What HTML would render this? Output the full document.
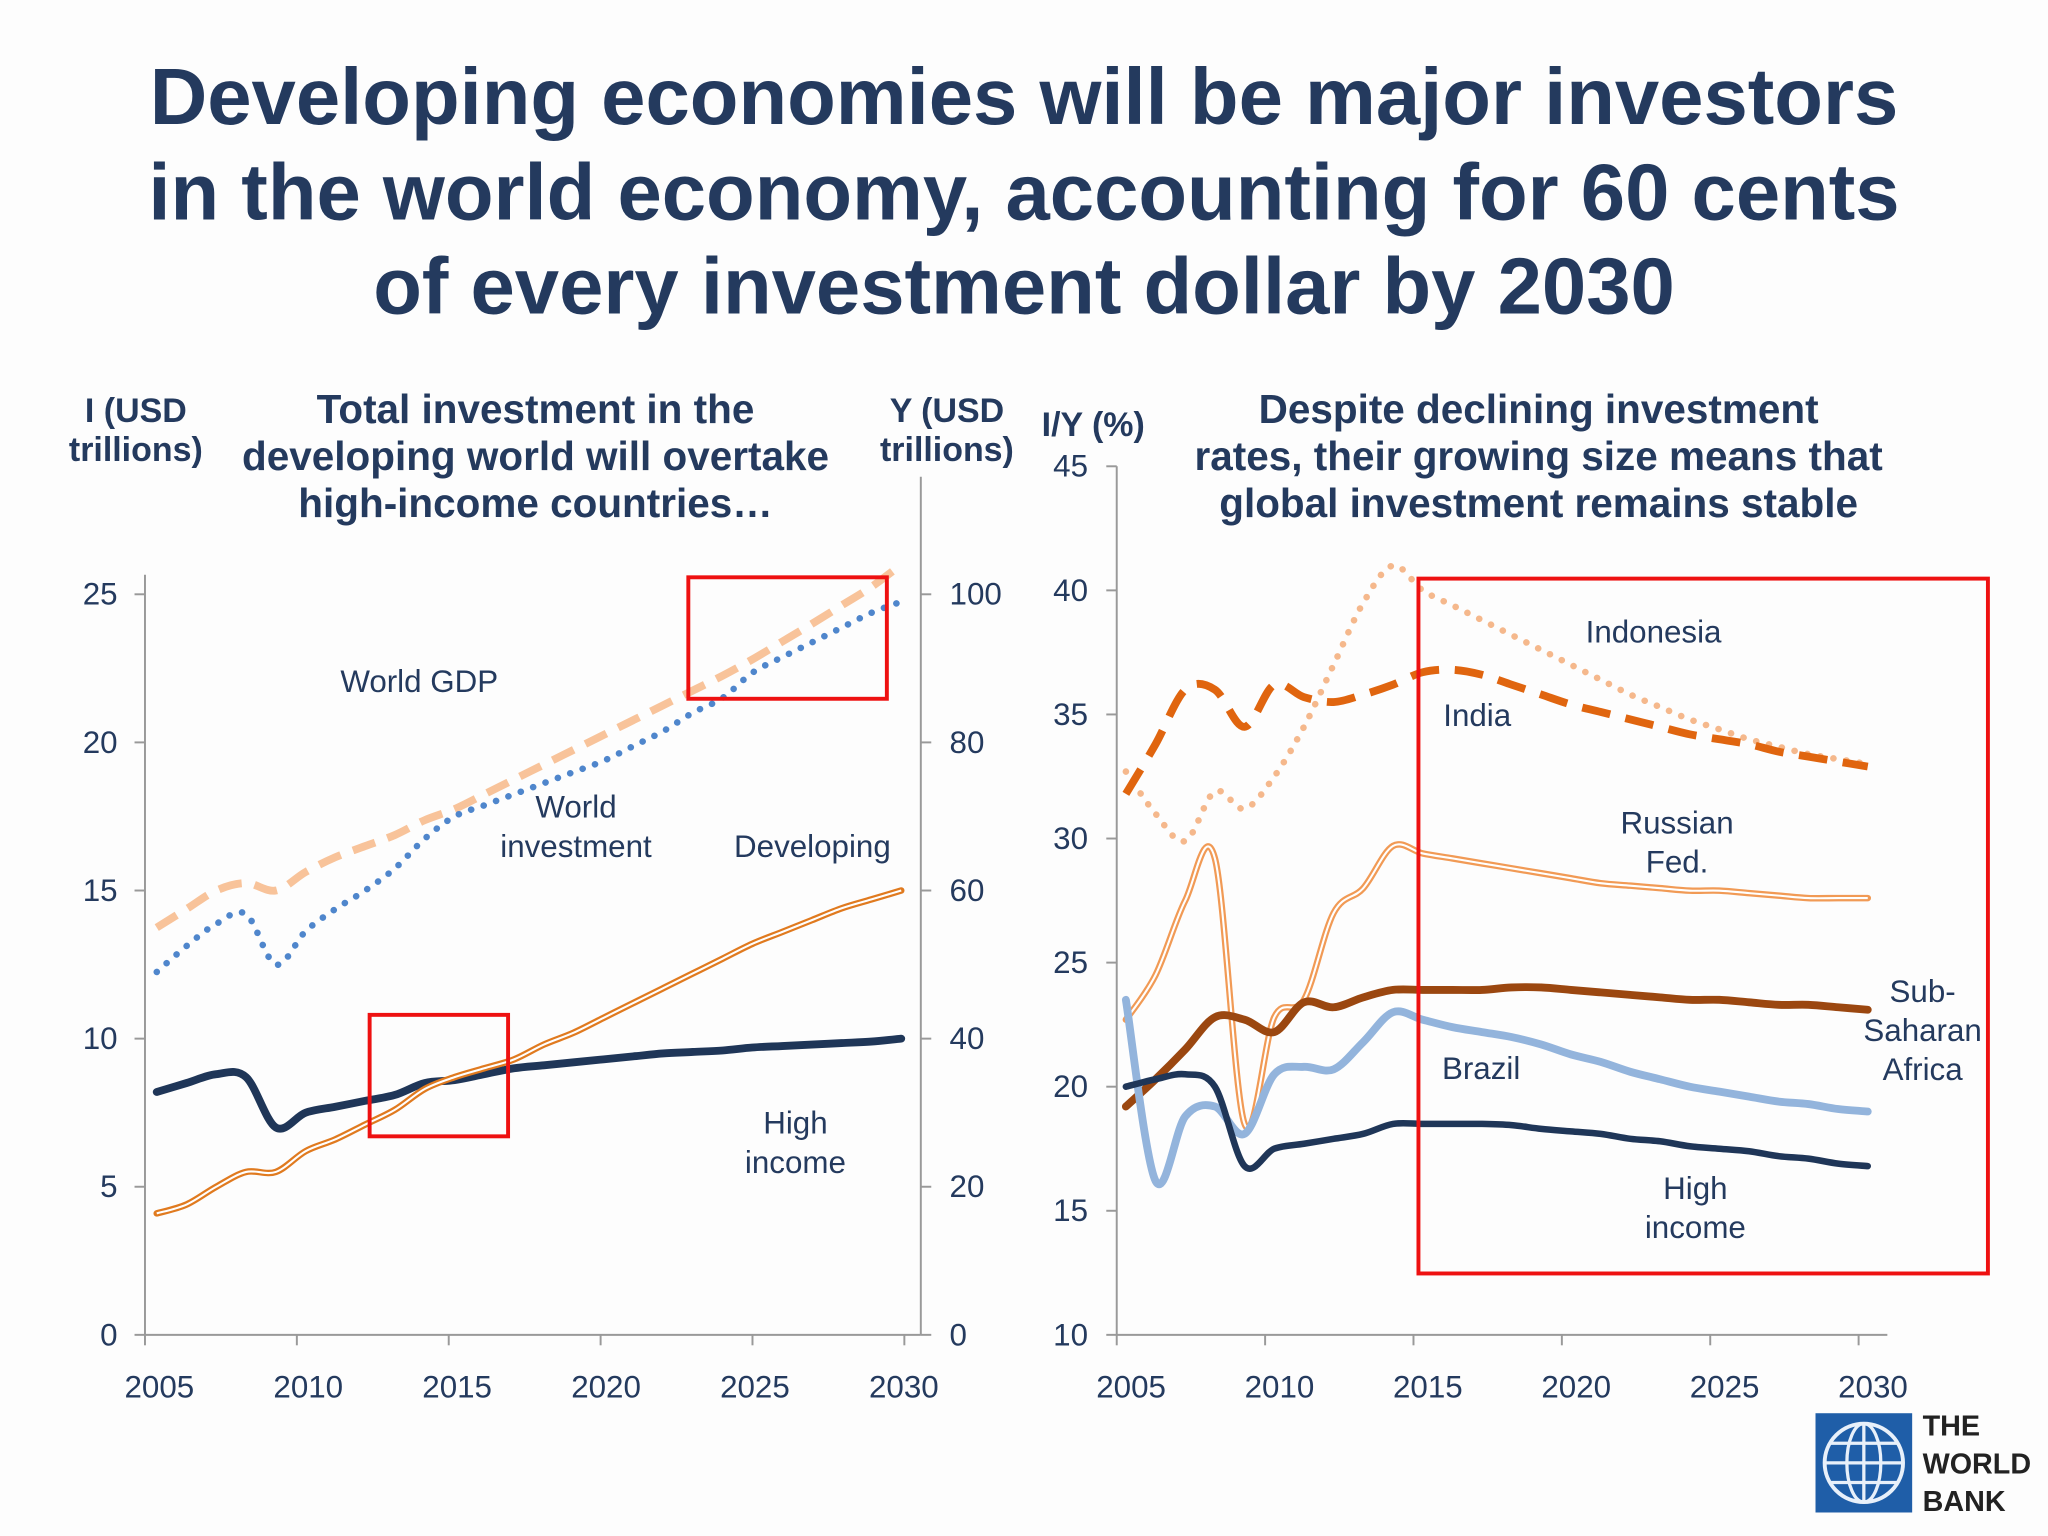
<!DOCTYPE html>
<html><head><meta charset="utf-8"><style>
html,body{margin:0;padding:0;background:#fff;}
svg{display:block;font-family:"Liberation Sans",Arial,sans-serif;}
</style></head><body>
<svg id="chart" width="2048" height="1536" viewBox="0 0 1568 1176">
<rect width="1568" height="1176" fill="#fdfdfd"/>
<g fill="#243a5e" font-weight="bold" font-size="61" text-anchor="middle">
<text x="784" y="95">Developing economies will be major investors</text>
<text x="784" y="168">in the world economy, accounting for 60 cents</text>
<text x="784" y="240">of every investment dollar by 2030</text>
</g>
<g fill="#243a5e" font-weight="bold" font-size="31" text-anchor="middle">
<text x="410" y="324">Total investment in the</text>
<text x="410" y="360">developing world will overtake</text>
<text x="410" y="396">high-income countries…</text>
</g>
<g fill="#243a5e" font-weight="bold" font-size="26" text-anchor="middle">
<text x="104" y="323">I (USD</text><text x="104" y="353">trillions)</text></g>
<g fill="#243a5e" font-weight="bold" font-size="26" text-anchor="middle">
<text x="725" y="323">Y (USD</text><text x="725" y="353">trillions)</text></g>
<g fill="#243a5e" font-weight="bold" font-size="31" text-anchor="middle">
<text x="1178" y="324">Despite declining investment</text>
<text x="1178" y="360">rates, their growing size means that</text>
<text x="1178" y="396">global investment remains stable</text>
</g>
<text x="837" y="334" fill="#243a5e" font-weight="bold" font-size="26" text-anchor="middle">I/Y (%)</text>
<g id="axes"></g>
<g id="series"></g>
<g fill="#243a5e" font-size="24" text-anchor="middle">
<text x="321" y="530">World GDP</text>
<text x="441" y="626">World</text><text x="441" y="656">investment</text>
<text x="622" y="656">Developing</text>
<text x="609" y="868">High</text><text x="609" y="898">income</text>
<text x="1266" y="492">Indonesia</text>
<text x="1131" y="556">India</text>
<text x="1284" y="638">Russian</text><text x="1284" y="668">Fed.</text>
<text x="1472" y="767">Sub-</text><text x="1472" y="797">Saharan</text><text x="1472" y="827">Africa</text>
<text x="1134" y="826">Brazil</text>
<text x="1298" y="918">High</text><text x="1298" y="948">income</text>
</g>
<g fill="none" stroke="#ee1111" stroke-width="3">
<rect x="527" y="442" width="152" height="93"/>
<rect x="283" y="777" width="106" height="93"/>
<rect x="1086" y="443" width="436" height="532"/>
</g>
<g>
<rect x="1390" y="1082" width="74" height="76" fill="#1f5ea8"/>
<circle cx="1427" cy="1120" r="30" fill="none" stroke="#e8f0fa" stroke-width="3"/>
<ellipse cx="1427" cy="1120" rx="13" ry="30" fill="none" stroke="#e8f0fa" stroke-width="2.5"/>
<line x1="1427" y1="1090" x2="1427" y2="1150" stroke="#e8f0fa" stroke-width="2.5"/>
<line x1="1397" y1="1120" x2="1457" y2="1120" stroke="#e8f0fa" stroke-width="2.5"/>
<line x1="1401" y1="1105" x2="1453" y2="1105" stroke="#e8f0fa" stroke-width="2.5"/>
<line x1="1401" y1="1135" x2="1453" y2="1135" stroke="#e8f0fa" stroke-width="2.5"/>
<g fill="#222" font-weight="bold" font-size="22"><text x="1472" y="1099">THE</text><text x="1472" y="1128">WORLD</text><text x="1472" y="1157">BANK</text></g>
</g>
</svg>
<script>
const years = [2005,2006,2007,2008,2009,2010,2011,2012,2013,2014,2015,2016,2017,2018,2019,2020,2021,2022,2023,2024,2025,2026,2027,2028,2029,2030];
const xTickYears = [2005,2010,2015,2020,2025,2030];
const leftTicksI = [0,5,10,15,20,25];
const leftTicksY = [0,20,40,60,80,100];
const rightTicks = [10,15,20,25,30,35,40,45];
const highIncomeI = [8.2,8.5,8.8,8.7,7.0,7.5,7.7,7.9,8.1,8.5,8.6,8.8,9.0,9.1,9.2,9.3,9.4,9.5,9.55,9.6,9.7,9.75,9.8,9.85,9.9,10.0];
const developingI = [4.1,4.4,5.0,5.5,5.5,6.2,6.6,7.1,7.6,8.3,8.7,9.0,9.3,9.8,10.2,10.7,11.2,11.7,12.2,12.7,13.2,13.6,14.0,14.4,14.7,15.0];
const worldGDP = [55,57.5,60,61,60,62.5,64.5,66,67.5,69.5,71,73,75,77,79,81,83,85,87,89,91.2,93.6,96,98.5,101,104];
const worldInvestment = [49,52.5,55.5,56.8,50,54.5,57.5,60,63,67,70,71.5,73,74.5,76,77.5,79.5,81.5,84,86,89.4,91.5,93.5,95.5,97.5,99];
const indonesia = [32.7,31,29.9,31.9,31.2,32.5,34.5,37,39.5,41,40,39.4,38.8,38.2,37.6,37.0,36.4,35.8,35.3,34.8,34.4,34.0,33.7,33.4,33.2,33.0];
const india = [31.8,33.8,36,36,34.5,36.2,35.7,35.5,35.8,36.2,36.7,36.8,36.6,36.2,35.8,35.4,35.1,34.8,34.5,34.2,34.0,33.8,33.5,33.3,33.1,32.9];
const russia = [22.7,24.5,27.5,29.2,18.5,22.8,23.5,27,28,29.7,29.4,29.2,29.0,28.8,28.6,28.4,28.2,28.1,28.0,27.9,27.9,27.8,27.7,27.6,27.6,27.6];
const subSaharan = [19.2,20.3,21.5,22.8,22.7,22.2,23.4,23.2,23.6,23.9,23.9,23.9,23.9,24,24,23.9,23.8,23.7,23.6,23.5,23.5,23.4,23.3,23.3,23.2,23.1];
const brazil = [23.5,16.2,18.8,19.2,18.1,20.5,20.8,20.7,21.8,23,22.7,22.4,22.2,22.0,21.7,21.3,21.0,20.6,20.3,20.0,19.8,19.6,19.4,19.3,19.1,19.0];
const highIncomeIY = [20.0,20.3,20.5,20.0,16.8,17.5,17.7,17.9,18.1,18.5,18.5,18.5,18.5,18.45,18.3,18.2,18.1,17.9,17.8,17.6,17.5,17.4,17.2,17.1,16.9,16.8];

const NS='http://www.w3.org/2000/svg';
const xL = y => 120 + (y-2005)*22.8;
const yLI = v => 1022 - v*22.68;
const yLY = v => 1022 - v*5.67;
const xR = y => 862 + (y-2005)*22.72;
const yR = v => 1022 - (v-10)*19;

function mk(tag, attrs, parent){const e=document.createElementNS(NS,tag);for(const k in attrs)e.setAttribute(k,attrs[k]);parent.appendChild(e);return e;}
function smooth(pts){let d=`M${pts[0][0]},${pts[0][1]}`;for(let i=0;i<pts.length-1;i++){const p0=pts[Math.max(i-1,0)],p1=pts[i],p2=pts[i+1],p3=pts[Math.min(i+2,pts.length-1)];const c1=[p1[0]+(p2[0]-p0[0])/6,p1[1]+(p2[1]-p0[1])/6],c2=[p2[0]-(p3[0]-p1[0])/6,p2[1]-(p3[1]-p1[1])/6];d+=` C${c1[0]},${c1[1]} ${c2[0]},${c2[1]} ${p2[0]},${p2[1]}`;}return d;}

const axes=document.getElementById('axes');
const ax={stroke:'#999',  'stroke-width':1.5};
let el;
el=mk('line',Object.assign({x1:111,y1:1022,x2:705,y2:1022},ax),axes);


el=mk('line',Object.assign({x1:111,y1:440,x2:111,y2:1022},ax),axes);


el=mk('line',Object.assign({x1:705,y1:365,x2:705,y2:1022},ax),axes);


el=mk('line',Object.assign({x1:855,y1:1022,x2:1445,y2:1022},ax),axes);


el=mk('line',Object.assign({x1:855,y1:357,x2:855,y2:1022},ax),axes);


const txt={fill:'#243a5e','font-size':24};
xTickYears.forEach(y=>{
  mk('line',Object.assign({x1:xL(y)-9+ (y-2005)*0.456,y1:1022,x2:xL(y)-9+(y-2005)*0.456,y2:1030},ax),axes);
  el=mk('text',Object.assign({x:xL(y)+2,y:1070,'text-anchor':'middle'},txt),axes);el.textContent=y;
  
  
  mk('line',Object.assign({x1:xR(y)-7,y1:1022,x2:xR(y)-7,y2:1030},ax),axes);
  el=mk('text',Object.assign({x:xR(y)+4,y:1070,'text-anchor':'middle'},txt),axes);el.textContent=y;
  
  
});
leftTicksI.forEach(v=>{
  mk('line',Object.assign({x1:103,y1:yLI(v),x2:111,y2:yLI(v)},ax),axes);
  el=mk('text',Object.assign({x:90,y:yLI(v)+8,'text-anchor':'end'},txt),axes);el.textContent=v;
  
  
});
leftTicksY.forEach(v=>{
  mk('line',Object.assign({x1:705,y1:yLY(v),x2:713,y2:yLY(v)},ax),axes);
  el=mk('text',Object.assign({x:727,y:yLY(v)+8,'text-anchor':'start'},txt),axes);el.textContent=v;
  
  
});
rightTicks.forEach(v=>{
  mk('line',Object.assign({x1:847,y1:yR(v),x2:855,y2:yR(v)},ax),axes);
  el=mk('text',Object.assign({x:833,y:yR(v)+8,'text-anchor':'end'},txt),axes);el.textContent=v;
  
  
});

const series=document.getElementById('series');
function line(vals,xf,yf,style,name,dbl){
  const d=smooth(vals.map((v,i)=>[xf(years[i]),yf(v)]));
  const p=mk('path',Object.assign({d:d,fill:'none','stroke-linecap':'round','stroke-linejoin':'round'},style),series);
  
  
  if(dbl){const q=mk('path',{d:d,fill:'none',stroke:'#fff','stroke-width':1.6},series);
    
    }
}
line(worldGDP,xL,yLY,{stroke:'#f8c39a','stroke-width':6,'stroke-dasharray':'18 10','stroke-linecap':'butt'},'world-gdp-line');
line(worldInvestment,xL,yLY,{stroke:'#4f86cc','stroke-width':5,'stroke-dasharray':'0.1 10'},'world-investment-line');
line(highIncomeI,xL,yLI,{stroke:'#1f3658','stroke-width':6},'high-income-investment-line');
line(developingI,xL,yLI,{stroke:'#e07a1f','stroke-width':5},'developing-investment-line',true);

line(indonesia,xR,yR,{stroke:'#f5b88c','stroke-width':5,'stroke-dasharray':'0.1 10'},'indonesia-line');
line(india,xR,yR,{stroke:'#e0650f','stroke-width':6,'stroke-dasharray':'22 12','stroke-linecap':'butt'},'india-line');
line(russia,xR,yR,{stroke:'#f19a55','stroke-width':5},'russia-line',true);
line(subSaharan,xR,yR,{stroke:'#9b4710','stroke-width':6},'sub-saharan-africa-line');
line(brazil,xR,yR,{stroke:'#93b4dc','stroke-width':6},'brazil-line');
line(highIncomeIY,xR,yR,{stroke:'#1f3658','stroke-width':5},'high-income-iy-line');
</script>
</body></html>
